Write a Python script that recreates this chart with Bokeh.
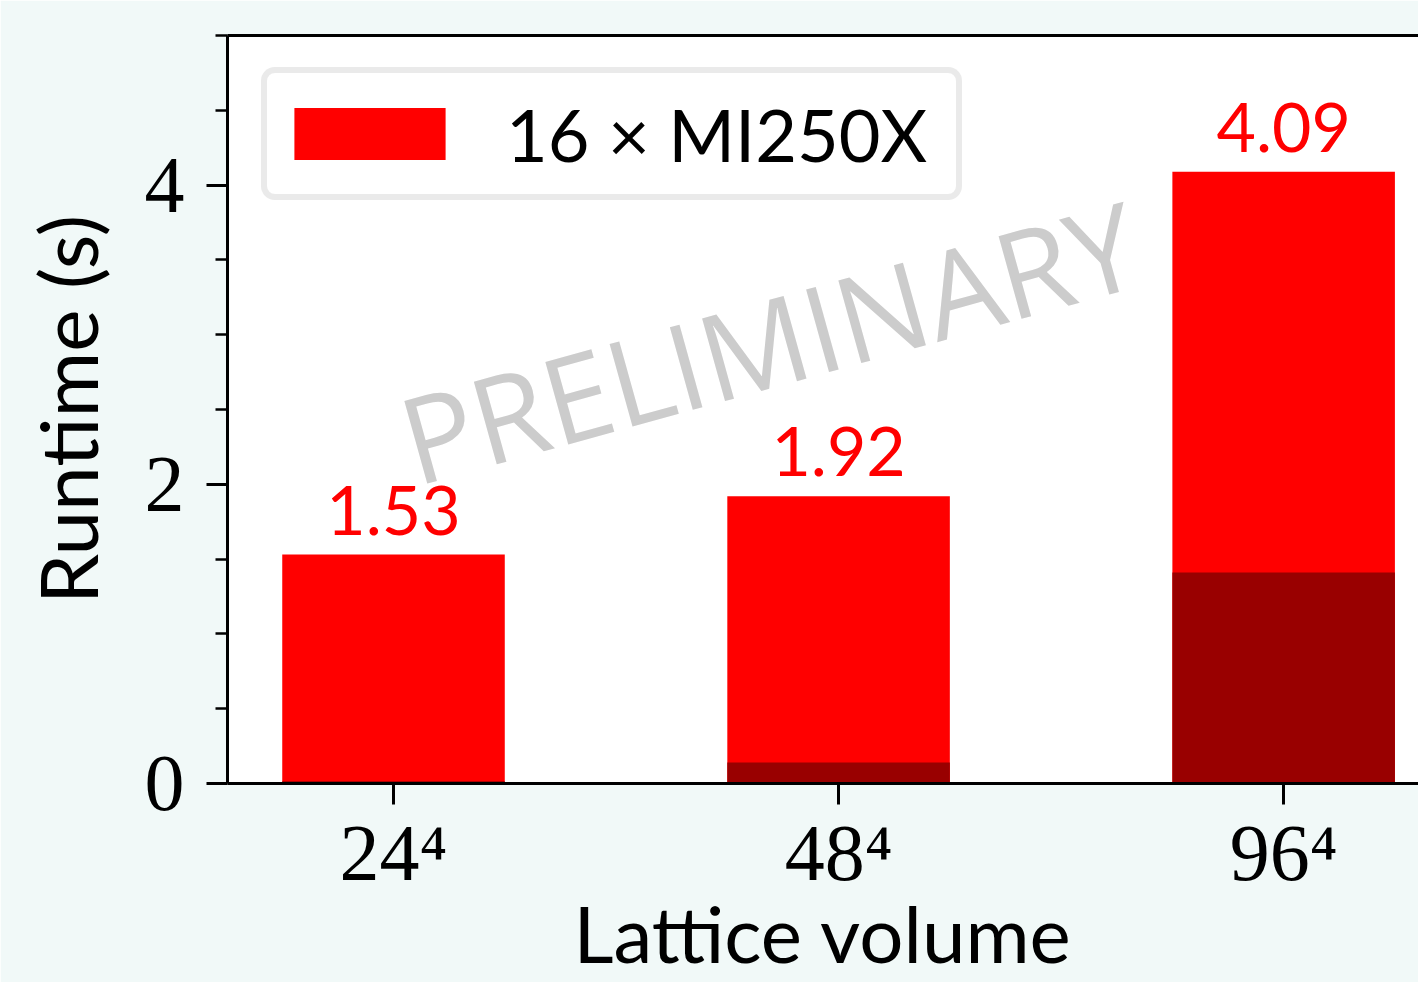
from bokeh.plotting import figure
from bokeh.models import (ColumnDataSource, Range1d, FixedTicker, LinearAxis,
                          Label, Legend, LegendItem)
from bokeh.core.properties import value
from bokeh.embed import file_html
from bokeh.resources import INLINE

# Runtime per lattice volume on 16 x MI250X
volumes = ["24⁴", "48⁴", "96⁴"]
total_runtime = [1.53, 1.92, 4.09]
component_runtime = [0.015, 0.14, 1.41]
bar_labels = ["1.53", "1.92", "4.09"]

RED = "#ff0000"
DARK = "#990000"
BG = "#f1f9f8"
SANS = "Lato"
SERIF = "Liberation Serif"

xpos = list(range(len(volumes)))
src = ColumnDataSource(dict(x=xpos, total=total_runtime, comp=component_runtime,
                            lab=bar_labels))

p = figure(width=1418, height=982, output_backend="svg", toolbar_location=None,
           x_range=Range1d(-0.373, 2.303), y_range=Range1d(0, 5),
           min_border_left=227, min_border_top=35, min_border_bottom=199,
           min_border_right=0)
p.background_fill_color = "white"
p.border_fill_color = BG
p.outline_line_color = None
p.grid.visible = False

r_total = p.vbar(x="x", top="total", bottom=0, width=0.5, source=src,
                 fill_color=RED, line_color=None)
p.vbar(x="x", top="comp", bottom=0, width=0.5, source=src,
       fill_color=DARK, line_color=None)

p.text(x="x", y="total", text="lab", source=src, text_align="center",
       text_baseline="bottom", y_offset=-20, text_color=RED,
       text_font=value(SANS), text_font_size="68px")

# axes
xa = p.xaxis[0]
xa.ticker = FixedTicker(ticks=xpos)
xa.major_label_overrides = {i: v for i, v in enumerate(volumes)}
xa.axis_label = "Lattice volume"
ya = p.yaxis[0]
ya.ticker = FixedTicker(ticks=[0, 2, 4], minor_ticks=[0.5, 1, 1.5, 2.5, 3, 3.5, 4.5, 5])
ya.axis_label = "Runtime (s)"

for ax in (xa, ya):
    ax.axis_line_width = 3
    ax.axis_line_color = "black"
    ax.major_tick_line_width = 3
    ax.major_tick_out = 21
    ax.major_tick_in = 0
    ax.minor_tick_line_width = 2.5
    ax.minor_tick_out = 12
    ax.minor_tick_in = 0
    ax.major_label_text_font = SERIF
    ax.major_label_text_font_size = "80px"
    ax.major_label_text_color = "black"
    ax.axis_label_text_font = SANS
    ax.axis_label_text_font_size = "78px"
    ax.axis_label_text_font_style = "normal"
    ax.axis_label_text_color = "black"
xa.minor_tick_line_color = None
xa.major_label_standoff = 4
xa.axis_label_standoff = -14
ya.major_label_standoff = 22
ya.axis_label_standoff = 27
ya.axis_label_text_font_size = "80px"

top_ax = LinearAxis(axis_line_width=3, axis_line_color="black",
                    major_tick_line_color=None, minor_tick_line_color=None,
                    major_label_text_font_size="0px")
top_ax.ticker = FixedTicker(ticks=[])
p.add_layout(top_ax, "above")

# watermark
p.add_layout(Label(x=0.843, y=2.96, text="PRELIMINARY", angle=15.5,
                   angle_units="deg", text_align="center", text_baseline="middle",
                   text_color="#cccccc", text_font="Open Sans",
                   text_font_size="120px"))

legend = Legend(items=[LegendItem(label="16 × MI250X", renderers=[r_total])],
                location=(34, 583), glyph_width=189, glyph_height=65,
                label_height=105, label_width=442, label_standoff=42, padding=8,
                label_text_font=SANS, label_text_font_size="72px",
                label_text_color="black",
                border_line_color="#d6d6d6", border_line_width=6,
                border_radius=14, background_fill_color="white",
                background_fill_alpha=1.0)
p.add_layout(legend)

open("out.html", "w").write(file_html(p, INLINE))
